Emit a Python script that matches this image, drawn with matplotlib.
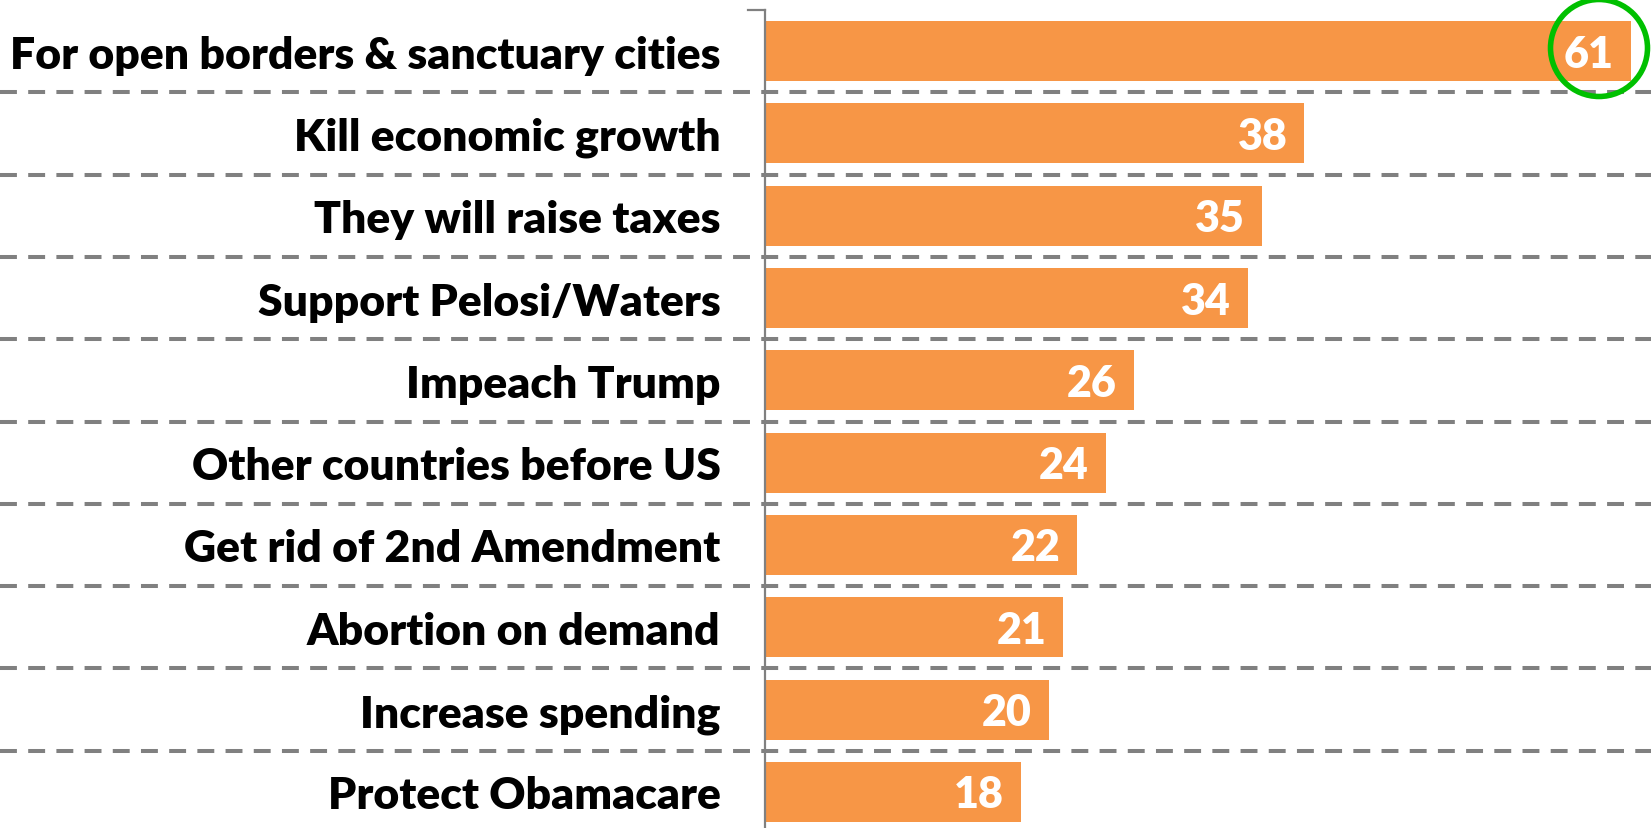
import matplotlib
matplotlib.use("Agg")
import matplotlib.pyplot as plt
from matplotlib.patches import Ellipse

categories = ["For open borders & sanctuary cities", "Kill economic growth",
              "They will raise taxes", "Support Pelosi/Waters", "Impeach Trump",
              "Other countries before US", "Get rid of 2nd Amendment",
              "Abortion on demand", "Increase spending", "Protect Obamacare"]
values = [61, 38, 35, 34, 26, 24, 22, 21, 20, 18]

W, H = 1651, 829
fig = plt.figure(figsize=(W / 100, H / 100), dpi=100)
ax_left = 765 / W
ax = fig.add_axes([ax_left, 0, 1 - ax_left, 1])

row_px = 82.3
top_px = 11
y_top = -0.5 - top_px / row_px
y_bot = y_top + H / row_px
ax.set_ylim(y_bot, y_top)
px_per_unit = (1631 - 765) / 61
ax.set_xlim(0, (W - 765) / px_per_unit)

orange = "#F79646"
gray = "#808080"
ys = list(range(len(categories)))
ax.barh(ys, values, height=0.73, color=orange, zorder=2)

font = "Lato"
for y, v in zip(ys, values):
    ax.text(v - 17 / px_per_unit, y + 0.03, str(v), ha="right", va="center",
            color="white", fontsize=31, fontweight="heavy", family=font, zorder=3)

ax.set_yticks(ys)
ax.set_yticklabels(categories, fontsize=32, fontweight="heavy", family=font)
ax.tick_params(axis="y", length=0, pad=32)
ax.set_xticks([])

for s in ["top", "right", "bottom"]:
    ax.spines[s].set_visible(False)
ax.spines["left"].set_color(gray)
ax.spines["left"].set_linewidth(1.6)
ax.spines["left"].set_bounds(-0.5, y_bot)

ax_w_px = W - 765
for b in [i + 0.5 for i in range(len(categories) - 1)]:
    ax.axhline(b, xmin=-765 / ax_w_px, xmax=1, color=gray, lw=2.9,
               dashes=(4.2, 2.8), clip_on=False, zorder=1)
# top tick
ax.axhline(-0.5, xmin=-17 / ax_w_px, xmax=0, color=gray, lw=1.6, clip_on=False)

# green circle around top value
trans = fig.dpi_scale_trans
circ = Ellipse((1599 / 100, (H - 49) / 100), 0.97, 0.97, transform=trans,
               fill=False, edgecolor="#00C000", lw=4.0, zorder=4)
fig.patches.append(circ)

fig.savefig("out.png", dpi=100)
